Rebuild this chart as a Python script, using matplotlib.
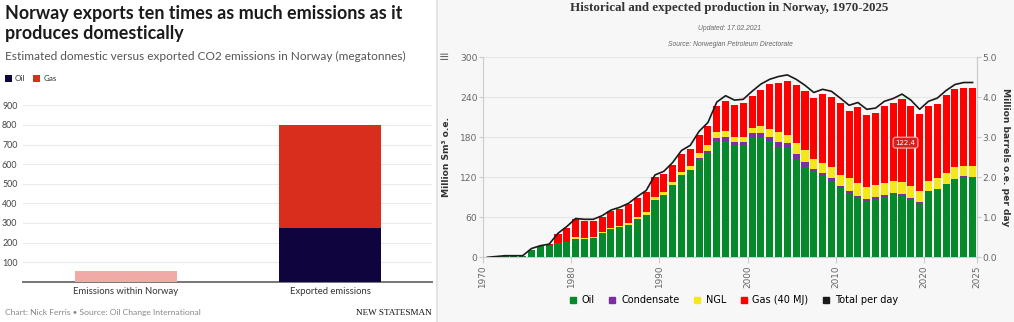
import matplotlib.pyplot as plt
import numpy as np
from matplotlib.patches import Rectangle
from matplotlib.lines import Line2D

# --- left chart: New Statesman bars (megatonnes CO2)
emis_cats = ["Emissions within Norway", "Exported emissions"]
domestic = [55, 0]
exported_oil = [0, 272]
exported_gas = [0, 528]
emis_ticks = [100, 200, 300, 400, 500, 600, 700, 800, 900]

# --- right chart: Norwegian Petroleum Directorate production (million Sm3 o.e.)
years = np.arange(1970, 2026)
oil = [0, 0.3, 1.9, 1.9, 2.0, 11.5, 16.5, 17.5, 21, 23,
       28, 27, 28.5, 36.5, 42, 45, 49, 57, 64, 85.5,
       93.5, 108, 124, 131.5, 147.5, 156.5, 175, 175, 168, 168.5,
       180.5, 181, 174.5, 165, 163.5, 147.5, 136, 128.5, 122, 115,
       103.5, 96, 90, 85, 87, 91, 94.5, 93.5, 87, 82,
       98.5, 102, 110, 117.5, 121, 120]
condensate = [0, 0, 0, 0, 0, 0, 0, 0, 0, 0,
              0, 0, 0, 0, 0, 0, 0, 0, 0, 0,
              0, 0, 0, 0, 1.5, 2.5, 4, 5, 5.5, 5,
              5.5, 5.5, 5.5, 8.5, 7.5, 7, 7.5, 4, 4, 3.5,
              4, 4, 2.5, 2.5, 3, 2.5, 1.5, 1.5, 1.5, 1,
              1, 0.5, 0.5, 0.5, 0.5, 0.5]
ngl = [0, 0, 0, 0, 0, 0, 0, 0, 0, 0,
       2, 2.5, 2, 2, 2, 2.5, 3, 4, 4, 5,
       4.5, 4.5, 4.5, 5, 7, 9, 9, 9.5, 7.5, 7.5,
       7.5, 10, 12, 15, 13, 16.5, 17.5, 15, 16, 16.5,
       16, 18.5, 18.5, 18, 18.5, 18.5, 19, 18.5, 18.5, 17,
       15.5, 16, 16.5, 17, 15.5, 16.5]
gas = [0, 0, 0, 0, 0, 0, 0, 2, 14, 21.5,
       27.5, 25.5, 24.5, 22.5, 25.5, 25.5, 27.5, 28, 29.5, 29.5,
       27, 26, 27, 26.5, 27.5, 29, 38.5, 45, 48, 50,
       49, 54.5, 67.5, 73.5, 81, 87.5, 89, 91, 102.5, 105,
       108.5, 101, 114, 108, 107.5, 115.5, 117, 123.5, 120.5, 115,
       112, 111.5, 116.5, 117, 117.5, 116.5]
# million barrels o.e. per day (right axis)
total_per_day = [0, 0.02, 0.04, 0.04, 0.04, 0.22, 0.29, 0.33, 0.60, 0.77,
                 0.97, 0.95, 0.95, 1.04, 1.18, 1.25, 1.35, 1.52, 1.67, 2.06,
                 2.15, 2.37, 2.67, 2.80, 3.15, 3.37, 3.88, 4.04, 3.93, 3.95,
                 4.15, 4.33, 4.45, 4.52, 4.56, 4.45, 4.30, 4.12, 4.20, 4.15,
                 3.98, 3.80, 3.87, 3.70, 3.73, 3.90, 3.97, 4.08, 3.93, 3.70,
                 3.90, 3.98, 4.17, 4.32, 4.37, 4.37]
year_ticks = [1970, 1980, 1990, 2000, 2010, 2020, 2026]
year_labels = ["1970", "1980", "1990", "2000", "2010", "2020", "2025"]

W, H = 1014, 322
fig = plt.figure(figsize=(W / 100, H / 100), dpi=100)
fig.patch.set_facecolor("white")


def fx(px):
    return px / W


def fy(py):
    return 1 - py / H


# grey background of the right half
fig.patches.append(Rectangle((fx(438), 0), 1 - fx(438), 1, transform=fig.transFigure,
                             facecolor="#f7f7f7", edgecolor="none", zorder=-10))
fig.patches.append(Rectangle((fx(436), 0), fx(2), 1, transform=fig.transFigure,
                             facecolor="#e4e4e4", edgecolor="none", zorder=-9))

# ---------------- left panel ----------------
fig.text(fx(5), fy(14), "Norway exports ten times as much emissions as it",
         family="Lato", weight="bold", size=12.9, color="#1a1a1a", va="center")
fig.text(fx(5), fy(34), "produces domestically",
         family="Lato", weight="bold", size=12.9, color="#1a1a1a", va="center")
fig.text(fx(5), fy(56), "Estimated domestic versus exported CO2 emissions in Norway (megatonnes)",
         family="Lato", size=8.6, color="#555555", va="center")
fig.patches.append(Rectangle((fx(5), fy(82)), fx(7), 7 / H, transform=fig.transFigure,
                             facecolor="#10043e", edgecolor="none"))
fig.text(fx(15), fy(78.5), "Oil", family="Lato", size=5.8, color="#333333", va="center")
fig.patches.append(Rectangle((fx(33), fy(82)), fx(7), 7 / H, transform=fig.transFigure,
                             facecolor="#d92e1e", edgecolor="none"))
fig.text(fx(44), fy(78.5), "Gas", family="Lato", size=5.8, color="#333333", va="center")

ax1 = fig.add_axes([fx(23), fy(281.7), fx(432 - 23), (281.7 - 105.3) / H])
x1 = np.arange(len(emis_cats))
ax1.bar(x1, domestic, width=0.5, color="#f0aba6", zorder=3)
ax1.bar(x1, exported_oil, width=0.5, color="#10043e", zorder=3)
ax1.bar(x1, exported_gas, width=0.5, bottom=exported_oil, color="#d92e1e", zorder=3)
ax1.set_xlim(-0.505, 1.5)
ax1.set_ylim(0, 900)
ax1.set_yticks(emis_ticks)
ax1.set_xticks(x1)
ax1.set_xticklabels(emis_cats, family="Lato", size=6.8, color="#333333")
ax1.tick_params(axis="y", length=0, pad=4, labelsize=6.4, labelcolor="#444444")
ax1.tick_params(axis="x", length=0, pad=4)
for lab in ax1.get_yticklabels():
    lab.set_family("Lato")
ax1.grid(axis="y", color="#ebebeb", linewidth=0.8, zorder=0)
for s in ["top", "right", "left"]:
    ax1.spines[s].set_visible(False)
ax1.spines["bottom"].set_color("#777777")
ax1.spines["bottom"].set_linewidth(1.4)
ax1.set_facecolor("none")

fig.text(fx(5), fy(313), "Chart: Nick Ferris \u2022 Source: Oil Change International",
         family="Lato", size=6.1, color="#888888", va="center")
fig.text(fx(432), fy(313), "NEW STATESMAN", family="Liberation Serif", size=6.6,
         color="#111111", va="center", ha="right")

# ---------------- right panel ----------------
fig.text(fx(729), fy(8), "Historical and expected production in Norway, 1970-2025",
         family="Liberation Serif", weight="bold", size=9.4, color="#333333",
         ha="center", va="center")
fig.text(fx(730), fy(28), "Updated: 17.02.2021", family="Liberation Sans", style="italic",
         size=4.9, color="#666666", ha="center", va="center")
fig.text(fx(730), fy(45), "Source: Norwegian Petroleum Directorate", family="Liberation Sans",
         style="italic", size=4.9, color="#666666", ha="center", va="center")
fig.text(fx(444), fy(57), "\u2261", size=9, color="#666666", ha="center", va="center")

ax2 = fig.add_axes([fx(483), fy(257.3), fx(977 - 483), 200 / H])
ax2.set_facecolor("none")
xc = years + 0.5
b1 = np.array(oil)
b2 = b1 + np.array(condensate)
b3 = b2 + np.array(ngl)
ax2.bar(xc, oil, width=0.8, color="#05892b", zorder=3)
ax2.bar(xc, condensate, width=0.8, bottom=b1, color="#7d2fa1", zorder=3)
ax2.bar(xc, ngl, width=0.8, bottom=b2, color="#f4e81a", zorder=3)
ax2.bar(xc, gas, width=0.8, bottom=b3, color="#ff0000", zorder=3)
ax2.set_xlim(1970, 2026)
ax2.set_ylim(0, 300)
ax2.set_yticks([0, 60, 120, 180, 240, 300])
ax2.set_xticks(year_ticks)
ax2.set_xticklabels(year_labels, rotation=90)
ax2.tick_params(axis="x", length=4, color="#cccccc", labelsize=6.4, labelcolor="#666666", pad=2)
ax2.tick_params(axis="y", length=3, color="#cccccc", labelsize=6.6, labelcolor="#666666", pad=1)
ax2.grid(axis="y", color="#e6e6e6", linewidth=0.8, zorder=0)
ax2.spines["top"].set_visible(False)
for s in ["left", "right", "bottom"]:
    ax2.spines[s].set_color("#cccccc")
ax2.set_ylabel("Million Sm\u00b3 o.e.", weight="bold", size=6.6, color="#333333", labelpad=6)

ax3 = ax2.twinx()
ax3.plot(xc, total_per_day, color="#1a1a1a", linewidth=1.2, zorder=5)
ax3.set_ylim(0, 5)
ax3.set_yticks([0, 1, 2, 3, 4, 5])
ax3.set_yticklabels(["0.0", "1.0", "2.0", "3.0", "4.0", "5.0"])
ax3.tick_params(axis="y", length=3, color="#cccccc", labelsize=6.6, labelcolor="#666666", pad=1)
for s in ["top", "left", "bottom"]:
    ax3.spines[s].set_visible(False)
ax3.spines["right"].set_color("#cccccc")
ax3.set_ylabel("Million barrels o.e. per day", weight="bold", size=6.6, color="#333333",
               rotation=270, labelpad=9)

ax2.text(2017.9, 172, "122.4", size=5, color="white", ha="center", va="center", zorder=10,
         bbox=dict(boxstyle="round,pad=0.35", fc="#d82020", ec="#ffb3b3", lw=0.8))

handles = [Line2D([], [], marker="s", linestyle="none", markersize=4.5, color=c)
           for c in ["#05892b", "#7d2fa1", "#f4e81a", "#ff0000", "#1a1a1a"]]
fig.legend(handles, ["Oil", "Condensate", "NGL", "Gas (40 MJ)", "Total per day"],
           loc="center", bbox_to_anchor=(fx(733), fy(300)), ncol=5, frameon=False,
           prop={"size": 7}, handletextpad=0.4, columnspacing=1.3, handlelength=1)

fig.savefig("out.png", dpi=100)
